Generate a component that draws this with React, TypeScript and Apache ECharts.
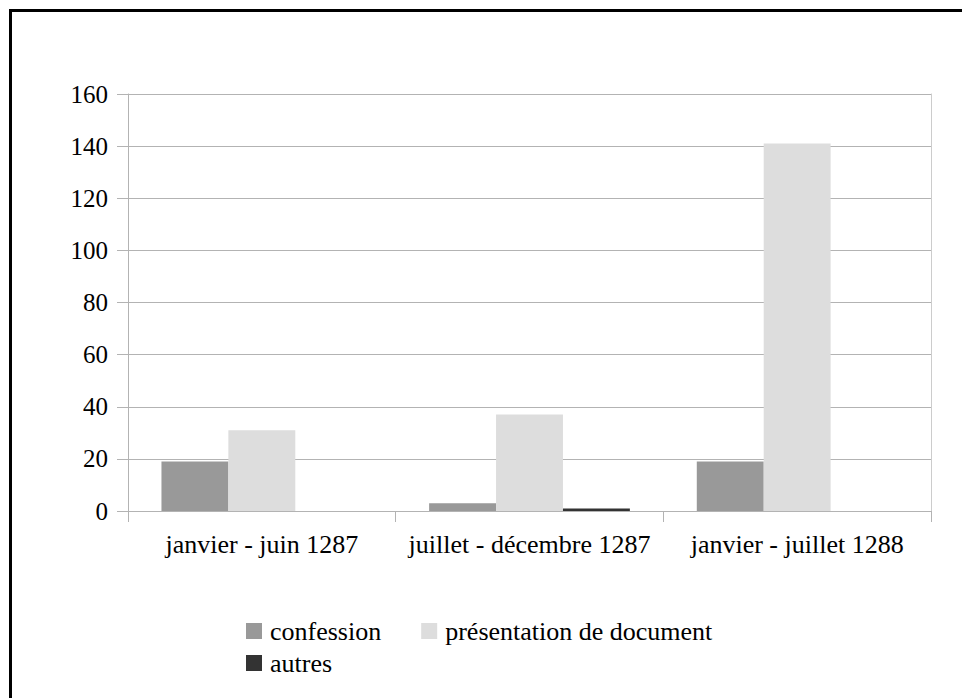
import React, { useEffect, useRef } from "react";
import * as echarts from "echarts";

const categories = ["janvier - juin 1287", "juillet - décembre 1287", "janvier - juillet 1288"];
const seriesNames = ["confession", "présentation de document", "autres"];
const confession = [19, 3, 19];
const presentation = [31, 37, 141];
const autres = [0, 1, 0];
const colors = ["#999999", "#dddddd", "#333333"];

const FONT = "Times New Roman, Liberation Serif, DejaVu Serif, serif";

export default function App() {
  const ref = useRef<HTMLDivElement>(null);
  useEffect(() => {
    if (!ref.current) return;
    const chart = echarts.init(ref.current, null, { renderer: "svg" });
    const values = [confession, presentation, autres];
    const legendText = { fontFamily: FONT, fontSize: 26, color: "#000", lineHeight: 26, padding: [0, 0, 0, 3] };
    chart.setOption({
      animation: false,
      backgroundColor: "#ffffff",
      textStyle: { fontFamily: FONT },
      grid: { left: 128, right: 31, top: 94, bottom: 187, containLabel: false },
      legend: [
        {
          data: [seriesNames[0], seriesNames[1]],
          left: 246,
          top: 618,
          padding: 0,
          itemWidth: 16,
          itemHeight: 16,
          itemGap: 40,
          icon: "rect",
          textStyle: legendText,
        },
        {
          data: [seriesNames[2]],
          left: 246,
          top: 650,
          padding: 0,
          itemWidth: 16,
          itemHeight: 16,
          icon: "rect",
          textStyle: legendText,
        },
      ],
      xAxis: {
        type: "category",
        data: categories,
        axisLine: { show: true, lineStyle: { color: "#b3b3b3", width: 1 } },
        axisTick: { show: true, length: 11, lineStyle: { color: "#b3b3b3" } },
        axisLabel: { fontFamily: FONT, fontSize: 26, color: "#000", margin: 20, interval: 0 },
        splitLine: { show: false },
      },
      yAxis: [
        {
          type: "value",
          min: 0,
          max: 160,
          interval: 20,
          axisLine: { show: true, lineStyle: { color: "#b3b3b3" } },
          axisTick: { show: true, length: 11, lineStyle: { color: "#b3b3b3" } },
          axisLabel: { fontFamily: FONT, fontSize: 25, color: "#000", margin: 20 },
          splitLine: { show: true, lineStyle: { color: "#b3b3b3", width: 1 } },
        },
        {
          type: "value",
          position: "right",
          min: 0,
          max: 160,
          interval: 20,
          axisLine: { show: true, lineStyle: { color: "#cccccc" } },
          axisTick: { show: false },
          axisLabel: { show: false },
          splitLine: { show: false },
        },
      ],
      series: seriesNames.map((name, i) => ({
        name,
        type: "bar",
        data: values[i],
        yAxisIndex: 0,
        barGap: "0%",
        barCategoryGap: "25%",
        itemStyle: { color: colors[i] },
      })),
      graphic: [
        {
          type: "rect",
          shape: { x: 10.5, y: 10.5, width: 1200, height: 1000 },
          style: { fill: "none", stroke: "#000", lineWidth: 3 },
          silent: true,
        },
      ],
    });
    return () => chart.dispose();
  }, []);
  return (
    <div
      ref={ref}
      style={{ position: "fixed", left: 0, top: 0, width: 962, height: 698 }}
    />
  );
}
